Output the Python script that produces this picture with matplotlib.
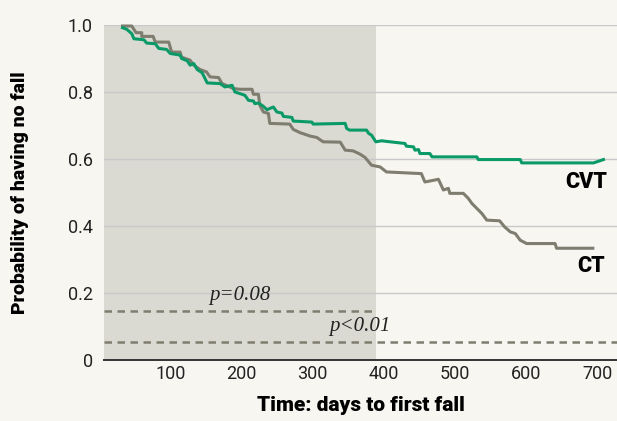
import matplotlib
matplotlib.use("Agg")
import matplotlib.pyplot as plt

# Kaplan-Meier style curves
ct_days = [33, 46, 52, 60, 60, 76, 79, 98, 102, 114, 116, 128, 133, 142, 151, 156,
           168, 173, 189, 198, 215, 217, 224, 226, 231, 238, 240, 268, 273, 283,
           297, 306, 315, 339, 346, 357, 367, 374, 383, 395, 404, 453, 458, 477,
           484, 491, 493, 512, 519, 524, 531, 538, 545, 563, 570, 578, 585, 592,
           601, 641, 643, 694]
ct_surv = [0.997, 0.997, 0.977, 0.977, 0.966, 0.966, 0.949, 0.949, 0.919, 0.919,
           0.904, 0.895, 0.880, 0.867, 0.860, 0.845, 0.843, 0.825, 0.810, 0.808,
           0.808, 0.793, 0.793, 0.760, 0.740, 0.736, 0.706, 0.704, 0.688, 0.678,
           0.668, 0.664, 0.651, 0.650, 0.626, 0.624, 0.614, 0.604, 0.581, 0.576,
           0.561, 0.556, 0.531, 0.539, 0.507, 0.512, 0.497, 0.497, 0.482, 0.467,
           0.452, 0.437, 0.417, 0.415, 0.397, 0.382, 0.377, 0.357, 0.347, 0.347,
           0.333, 0.333]

cvt_days = [33, 39, 46, 49, 63, 67, 79, 84, 95, 100, 114, 116, 124, 128, 133, 138,
            145, 149, 152, 170, 177, 187, 191, 205, 210, 217, 219, 224, 231, 236,
            245, 250, 257, 259, 271, 273, 299, 301, 346, 348, 352, 376, 379, 383,
            389, 397, 430, 432, 442, 444, 449, 451, 465, 468, 531, 533, 592, 594,
            695, 709]
cvt_surv = [0.992, 0.987, 0.974, 0.959, 0.956, 0.946, 0.944, 0.930, 0.927, 0.915,
            0.910, 0.900, 0.893, 0.880, 0.885, 0.867, 0.857, 0.840, 0.827, 0.825,
            0.815, 0.820, 0.800, 0.790, 0.775, 0.773, 0.765, 0.767, 0.757, 0.747,
            0.755, 0.740, 0.737, 0.727, 0.724, 0.713, 0.710, 0.704, 0.706, 0.691,
            0.686, 0.686, 0.676, 0.671, 0.651, 0.654, 0.646, 0.638, 0.636, 0.626,
            0.628, 0.616, 0.616, 0.606, 0.606, 0.598, 0.598, 0.588, 0.588, 0.598]

x_ticks = [100, 200, 300, 400, 500, 600, 700]
y_ticks = [0, 0.2, 0.4, 0.6, 0.8, 1.0]
y_labels = ["0", "0.2", "0.4", "0.6", "0.8", "1.0"]

shade_end = 389
p_lines = [0.145, 0.052]

bg = "#f7f6f1"
green = "#0a9a68"
grey = "#7f7d6f"

plt.rcParams['font.family'] = ['Roboto', 'DejaVu Sans']

fig = plt.figure(figsize=(6.17, 4.21), dpi=100, facecolor=bg)
ax = fig.add_axes([0.1686, 0.1456, 0.8314, 0.795])
ax.set_facecolor(bg)
ax.set_xlim(7, 728)
ax.set_ylim(0, 1.0)

ax.axvspan(7, shade_end, color="#dadad2", zorder=0, lw=0)
for y in y_ticks[1:]:
    ax.axhline(y, color="#c9c9cc", lw=1, zorder=1)

ax.plot([7, shade_end], [p_lines[0]] * 2, ls=(0, (3, 2.2)), color=grey, lw=1.8, zorder=2)
ax.plot([7, 728], [p_lines[1]] * 2, ls=(0, (3, 2.2)), color=grey, lw=1.8, zorder=2)

ax.plot(ct_days, ct_surv, color=grey, lw=2.2, zorder=3, clip_on=False)
ax.plot(cvt_days, cvt_surv, color=green, lw=2.2, zorder=4, clip_on=False)

ax.text(198, 0.193, "p=0.08", family="Liberation Serif", style="italic",
        fontsize=15, ha="center", va="center", color="#222222")
ax.text(367, 0.098, "p<0.01", family="Liberation Serif", style="italic",
        fontsize=15, ha="center", va="center", color="#222222")
ax.text(684, 0.532, "CVT", fontsize=15.5, fontweight="black", ha="center", va="center")
ax.text(691, 0.281, "CT", fontsize=15.5, fontweight="black", ha="center", va="center")

for s in ["top", "right", "left"]:
    ax.spines[s].set_visible(False)
ax.spines["bottom"].set_color("#333333")
ax.spines["bottom"].set_linewidth(1.4)
ax.spines["bottom"].set_zorder(5)

ax.set_xticks(x_ticks)
ax.set_yticks(y_ticks)
ax.set_yticklabels(y_labels)
ax.tick_params(length=0, labelsize=13, colors="#222222")
ax.tick_params(axis="x", pad=4)
ax.tick_params(axis="y", pad=8)

ax.set_xlabel("Time: days to first fall", fontsize=15, fontweight="black", labelpad=9)
ax.set_ylabel("Probability of having no fall", fontsize=14, fontweight="black", labelpad=28)

fig.savefig("out.png", dpi=100, facecolor=bg)
